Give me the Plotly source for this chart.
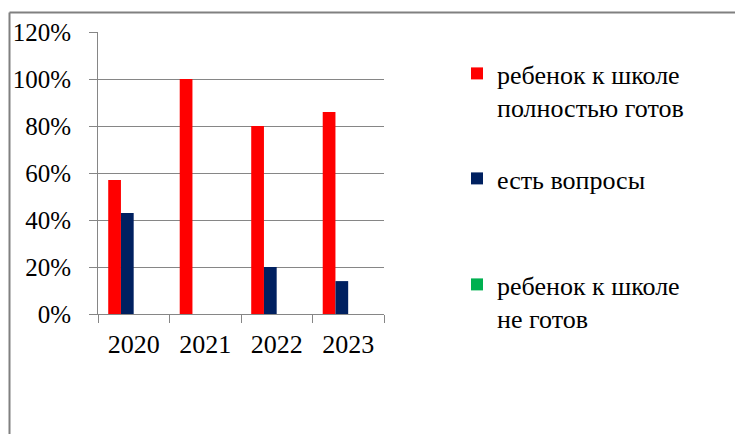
import plotly.graph_objects as go

years = ["2020", "2021", "2022", "2023"]
ready_full = [0.57, 1.00, 0.80, 0.86]
questions = [0.43, 0.0, 0.20, 0.14]
not_ready = [0.0, 0.0, 0.0, 0.0]

names = ["ребенок к школе<br>полностью готов", "есть вопросы", "ребенок к школе<br>не готов"]
colors = ["#FF0000", "#002060", "#00B050"]
series = [ready_full, questions, not_ready]
offsets = [-0.357, -0.179, 0.0]
legends = ["legend", "legend2", "legend3"]

FONT = "Liberation Serif"
OFF = 8  # page body margin
W, H = 743, 434
L, R, T, B = 98 - OFF, 743 - 384 + OFF, 32 - OFF, 434 - 314 + OFF
pw, ph = W - L - R, H - T - B

def px(x):
    return (x - OFF - L) / pw

def py(y):
    return (H - B - (y - OFF)) / ph

fig = go.Figure()
for name, vals, col, off, lg in zip(names, series, colors, offsets, legends):
    fig.add_trace(go.Bar(
        x=years, y=vals, name=name, marker=dict(color=col, line=dict(width=0)),
        width=0.178, offset=off, legend=lg, showlegend=True,
    ))

leg_common = dict(
    font=dict(family=FONT, size=26, color="black"),
    xanchor="left", yanchor="top", bgcolor="rgba(0,0,0,0)",
    valign="top", itemclick=False, itemdoubleclick=False,
)
fig.update_layout(
    width=W, height=H, showlegend=True,
    margin=dict(l=L, r=R, t=T, b=B, pad=0, autoexpand=False),
    paper_bgcolor="white", plot_bgcolor="white",
    font=dict(family=FONT, size=26, color="black"),
    legend=dict(x=px(457), y=py(50), **leg_common),
    legend2=dict(x=px(457), y=py(155), **leg_common),
    legend3=dict(x=px(457), y=py(261), **leg_common),
    xaxis=dict(
        type="category", range=[-0.5, 3.5], tickson="boundaries",
        ticks="outside", ticklen=8, tickcolor="#868686", tickwidth=1,
        showline=True, linecolor="#868686", linewidth=1,
        showgrid=False, ticklabelstandoff=7, automargin=False,
        tickfont=dict(family=FONT, size=26, color="black"),
    ),
    yaxis=dict(
        range=[0, 1.2], dtick=0.2, tick0=0, tickformat=".0%",
        ticks="outside", ticklen=8, tickcolor="#868686", tickwidth=1,
        showline=True, linecolor="#868686", linewidth=1,
        showgrid=True, gridcolor="#868686", gridwidth=1, zeroline=False,
        ticklabelstandoff=13, automargin=False,
        tickfont=dict(family=FONT, size=25, color="black"),
    ),
    shapes=[
        dict(type="line", xref="paper", yref="paper", x0=px(9.5), x1=px(760), y0=py(12.5), y1=py(12.5),
             line=dict(color="#808080", width=2)),
        dict(type="line", xref="paper", yref="paper", x0=px(9.5), x1=px(9.5), y0=py(12.5), y1=py(460),
             line=dict(color="#808080", width=2)),
    ],
)

fig.write_html("out.html")
